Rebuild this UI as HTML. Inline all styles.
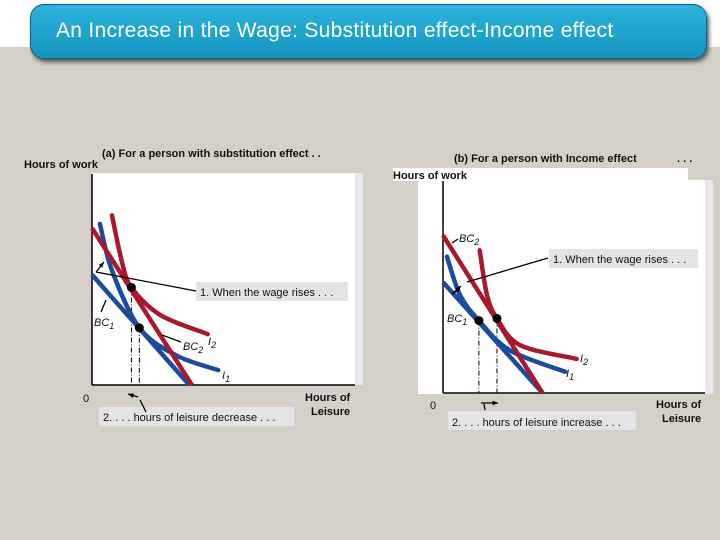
<!DOCTYPE html>
<html><head><meta charset="utf-8">
<style>
body{margin:0;width:720px;height:540px;overflow:hidden;background:#d5d0c7;font-family:"Liberation Sans",sans-serif;}
#top{position:absolute;left:0;top:0;width:720px;height:47px;background:#fff;}
#banner{position:absolute;left:30px;top:4px;width:675px;height:53px;border-radius:14px;background:linear-gradient(#2bb3da,#1596c2);box-shadow:2px 3px 4px #555;border:1px solid #0b5f80;}
#banner span{position:absolute;left:25px;top:14px;color:#fff;font-size:21px;letter-spacing:0.3px;white-space:nowrap;font-family:"Liberation Sans",sans-serif;}
svg{position:absolute;left:0;top:0;}
svg text{font-family:"Liberation Sans",sans-serif;font-size:11px;fill:#111;}
</style></head><body>
<div id="top"></div>
<div id="banner"><span>An Increase in the Wage: Substitution effect-Income effect</span></div>
<svg id="s" width="720" height="540">
<g>
<rect x="92" y="173" width="271" height="212" fill="#e8e8ec"/>
<rect x="92" y="173" width="263" height="212" fill="#fff"/>
<text x="102" y="157" font-weight="bold">(a) For a person with substitution effect . .</text>
<text x="24" y="168" font-weight="bold">Hours of work</text>
<text x="83" y="402">0</text>
<text x="305" y="401" font-weight="bold">Hours of</text>
<text x="311" y="415" font-weight="bold">Leisure</text>
<rect x="196" y="282" width="152" height="19" fill="#e4e4e6"/>
<text x="200" y="296">1. When the wage rises . . .</text>
<rect x="99" y="407" width="195" height="19" fill="#e4e4e6"/>
<text x="103" y="421">2. . . . hours of leisure decrease . . .</text>
</g>
<g>
<rect x="418" y="180" width="295" height="214" fill="#e8e8ec"/>
<rect x="418" y="180" width="287" height="214" fill="#fff"/>
<rect x="393" y="168" width="295" height="13" fill="#fff"/>
<text x="454" y="162" font-weight="bold">(b) For a person with Income effect</text>
<text x="677" y="162" font-weight="bold">. . .</text>
<text x="393" y="179" font-weight="bold">Hours of work</text>
<text x="430" y="409">0</text>
<text x="656" y="408" font-weight="bold">Hours of</text>
<text x="662" y="422" font-weight="bold">Leisure</text>
<rect x="549" y="249" width="149" height="19" fill="#e4e4e6"/>
<text x="553" y="263">1. When the wage rises . . .</text>
<rect x="448" y="411" width="188" height="19" fill="#e4e4e6"/>
<text x="452" y="426">2. . . . hours of leisure increase . . .</text>
</g>
</svg>
<script>
// Panel A data (x = leisure units, y = work units)
const aBC1=[[0,52],[37,0]];
const aBC2=[[0,74],[38,0]];
const aI1=[[3,76],[7.6,54],[18,27],[32,14],[48,7]];
const aI2=[[7.6,80],[11.4,58],[15,46],[26,33],[44,24]];
const aEq=[[15,46],[18,27]];
// Panel B data
const bBC1=[[0,52],[38,0]];
const bBC2=[[0,74],[38,0]];
const bI1=[[1.5,64],[6.5,46],[13.7,34],[25.6,20],[46.6,10]];
const bI2=[[14,67],[16.8,46],[20.6,35],[29.4,22.5],[51,16]];
const bEq=[[13.7,34],[20.6,35]];

const NS='http://www.w3.org/2000/svg';
const svg=document.getElementById('s');
function mk(tag,at){const e=document.createElementNS(NS,tag);for(const k in at)e.setAttribute(k,at[k]);svg.appendChild(e);return e;}
function scaler(ox,oy,sx,sy){return{x:v=>ox+v*sx,y:v=>oy-v*sy};}
function smooth(pts,S){const p=pts.map(q=>[S.x(q[0]),S.y(q[1])]);let d='M'+p[0][0]+','+p[0][1];
 for(let i=0;i<p.length-1;i++){const p0=p[i-1]||p[i],p1=p[i],p2=p[i+1],p3=p[i+2]||p2;
 d+=' C'+(p1[0]+(p2[0]-p0[0])/6)+','+(p1[1]+(p2[1]-p0[1])/6)+' '+(p2[0]-(p3[0]-p1[0])/6)+','+(p2[1]-(p3[1]-p1[1])/6)+' '+p2[0]+','+p2[1];}
 return d;}
function panel(pre,S,ax,BC1,BC2,I1,I2,EQ){
 let e;
 e=mk('line',{x1:ax.x0,y1:ax.yTop,x2:ax.x0,y2:ax.y0,stroke:'#000','stroke-width':1.5});
 
 
 e=mk('line',{x1:ax.x0,y1:ax.y0,x2:ax.xEnd,y2:ax.y0,stroke:'#000','stroke-width':1.5});
 
 
 EQ.forEach((q,i)=>{e=mk('line',{x1:S.x(q[0]),y1:S.y(q[1]),x2:S.x(q[0]),y2:ax.y0,stroke:'#000','stroke-width':1,'stroke-dasharray':'5,2,1,2'});
  
  });
 e=mk('path',{d:smooth(I1,S),fill:'none',stroke:'#1c4b9c','stroke-width':4.5,'stroke-linecap':'round'});
 
 
 e=mk('path',{d:smooth(BC1,S),fill:'none',stroke:'#1c4b9c','stroke-width':4.5});
 
 
 e=mk('path',{d:smooth(I2,S),fill:'none',stroke:'#a8192e','stroke-width':4.5,'stroke-linecap':'round'});
 
 
 e=mk('path',{d:smooth(BC2,S),fill:'none',stroke:'#a8192e','stroke-width':4.5});
 
 
 EQ.forEach((q,i)=>{e=mk('circle',{cx:S.x(q[0]),cy:S.y(q[1]),r:4.5,fill:'#000'});
  
  });
}
function lbl(txt,sub,x,y,name){const t=mk('text',{x:x,y:y,'font-style':'italic','font-size':12});
 t.textContent=txt;const s=document.createElementNS(NS,'tspan');s.setAttribute('dy','3');s.setAttribute('font-size','9');s.textContent=sub;t.appendChild(s);
 
 }
function ln(x1,y1,x2,y2,name,arrow){const e=mk('line',{x1,y1,x2,y2,stroke:'#000','stroke-width':1.3});
 
 
 if(arrow){const a=Math.atan2(y2-y1,x2-x1),L=6;const p=mk('polygon',{points:[x2,y2,x2-L*Math.cos(a-0.4),y2-L*Math.sin(a-0.4),x2-L*Math.cos(a+0.4),y2-L*Math.sin(a+0.4)].join(','),fill:'#000'});
 
 }}

const SA=scaler(92,385,2.63,2.12);
panel('panel-a',SA,{x0:92,y0:385,yTop:174,xEnd:355},aBC1,aBC2,aI1,aI2,aEq);
const SB=scaler(443,393,2.62,2.13);
panel('panel-b',SB,{x0:443,y0:393,yTop:181,xEnd:705},bBC1,bBC2,bI1,bI2,bEq);

// panel a annotations
ln(196,291,96,272,'panel-a-note1-leader',false);
ln(96,272,104,262,'panel-a-note1-arrow',true);
ln(106,300,101,312,'panel-a-bc1-leader',false);
ln(162,335,181,342,'panel-a-bc2-leader',false);
ln(146,412,140,400,'panel-a-note2-leader',false);
ln(138,397,128,394,'panel-a-leisure-arrow',true);
lbl('BC','1',94,326,'panel-a-bc1-label');
lbl('BC','2',183,350,'panel-a-bc2-label');
lbl('I','2',208,345,'panel-a-i2-label');
lbl('I','1',222,379,'panel-a-i1-label');
// panel b annotations
ln(548,258,467,282,'panel-b-note1-leader',false);
ln(460,289,452,294,'panel-b-note1-arrow',false);
ln(452,294,461,286,'panel-b-note1-arrowhead',true);
ln(452,243,458,239,'panel-b-bc2-leader',false);
ln(485,410,484,404,'panel-b-note2-leader',false);
ln(481,403,498,403,'panel-b-leisure-arrow',true);
lbl('BC','2',459,242,'panel-b-bc2-label');
lbl('BC','1',447,322,'panel-b-bc1-label');
lbl('I','2',580,362,'panel-b-i2-label');
lbl('I','1',566,377,'panel-b-i1-label');
</script>
</body></html>
